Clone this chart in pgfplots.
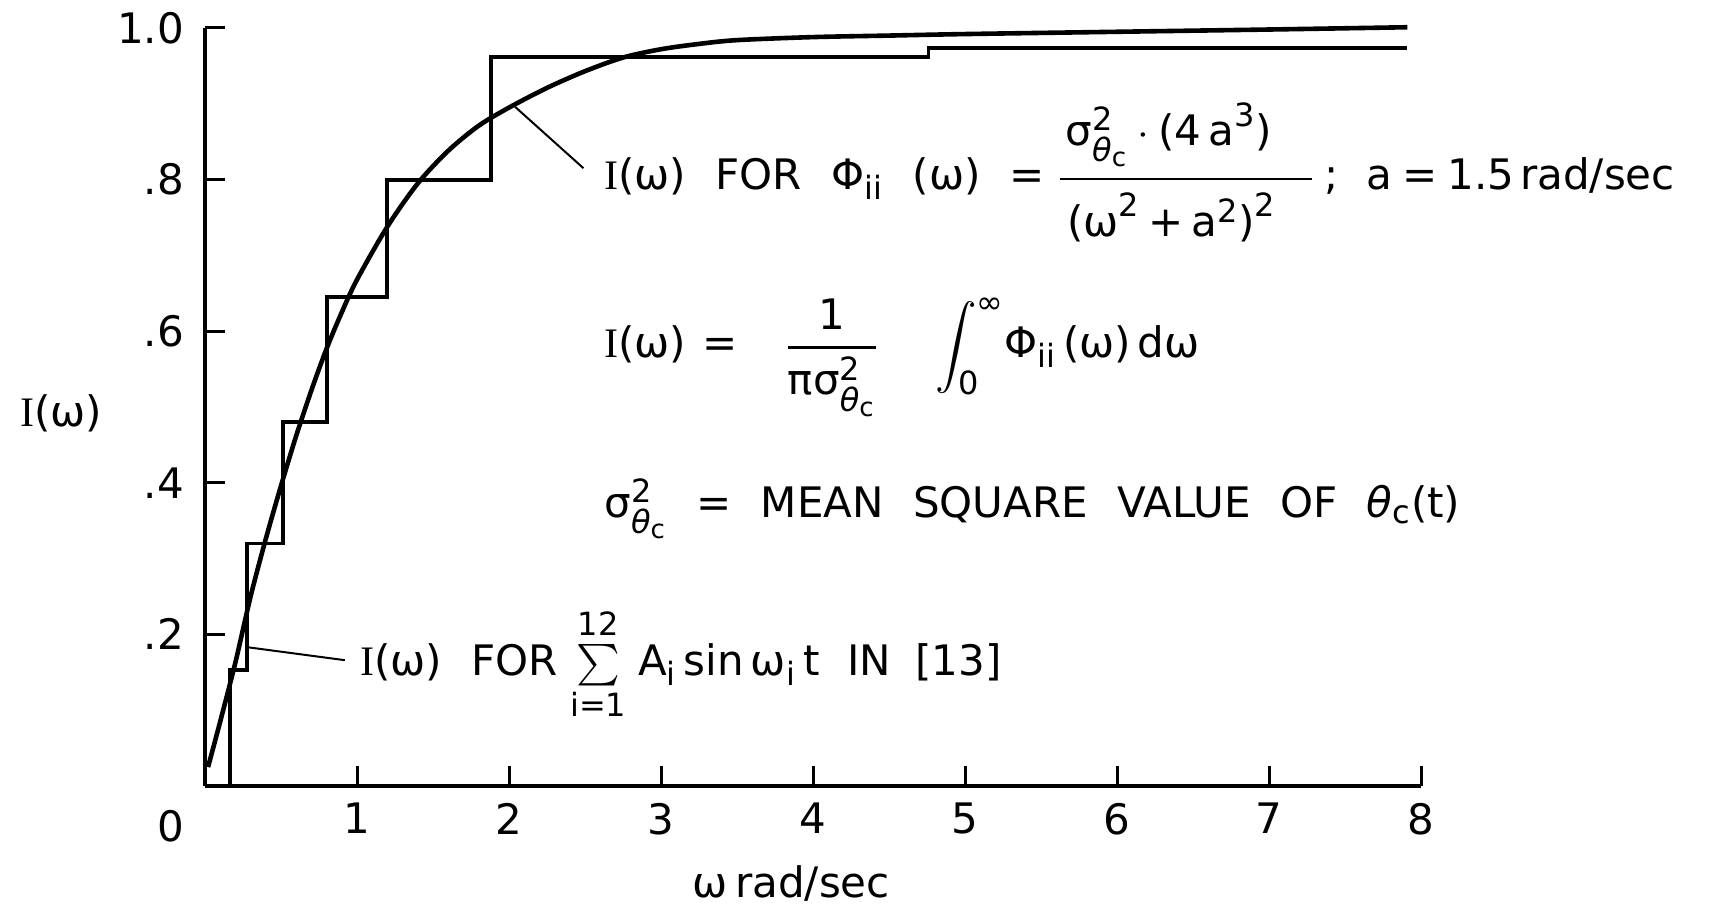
\RequirePackage{fix-cm}
\documentclass[border=0pt]{standalone}
\usepackage{amsmath}
\usepackage{fontspec}
\setmainfont{DejaVu Sans}[WordSpace=2.2]
\newfontfamily\romanI{Liberation Serif}
\usepackage{pgfplots}
\pgfplotsset{compat=1.18}
\DeclareMathSizes{21}{21}{16}{13}

\newcommand\T[1]{\text{#1}}
\newcommand\Iw{{\romanI I}(ω)}
\newcommand\sigmath{\T{σ}^{\T{2}}_{\T{\textit{θ}}_{\T{c}}}}

\begin{document}
\begin{tikzpicture}[font=\fontsize{21}{25}\selectfont]
\useasboundingbox (-102.5pt,-62.5pt) rectangle (761pt,393pt);
\begin{axis}[
  at={(0,0)}, anchor=south west,
  scale only axis, width=608pt, height=379pt,
  xmin=0, xmax=8, ymin=0, ymax=1,
  axis x line=bottom, axis y line=left,
  axis line style={-, line width=2pt},
  tick align=inside, major tick length=10pt,
  tick style={line width=1.5pt, black},
  xtick={1,2,3,4,5,6,7,8}, xticklabels={1,2,3,4,5,6,7,8},
  ytick={0.2,0.4,0.6,0.8,1.0}, yticklabels={.2,.4,.6,.8,1.0},
  xticklabel style={yshift=-5pt},
  yticklabel style={xshift=-7pt},
  /pgf/number format/assume math mode=true,
  clip=false,
]
% normalized cumulative spectrum of the second-order process, a = 1.5 rad/sec
\addplot[black, line width=2.3pt, smooth] coordinates {
  (0.02,0.025) (0.1,0.085) (0.2,0.163) (0.3,0.250) (0.4,0.326)
  (0.5,0.396) (0.6,0.462) (0.7,0.522) (0.8,0.577) (0.9,0.625)
  (1.0,0.668) (1.2,0.738) (1.4,0.795) (1.6,0.838) (1.8,0.871)
  (2.0,0.895) (2.25,0.921) (2.5,0.943) (2.75,0.961) (3.0,0.972)
  (3.25,0.979) (3.5,0.984) (4.0,0.988) (4.5,0.990) (5.0,0.992)
  (6.0,0.995) (7.0,0.998) (7.91,1.001)
};
% staircase for the sum of 12 sinusoids
\addplot[black, line width=1.9pt] coordinates {
  (0.165,0) (0.165,0.153) (0.276,0.153) (0.276,0.320)
  (0.513,0.320) (0.513,0.480) (0.80,0.480) (0.80,0.645)
  (1.195,0.645) (1.195,0.800) (1.88,0.800) (1.88,0.962)
  (4.76,0.962) (4.76,0.974) (7.91,0.974)
};
% leader lines
\draw[line width=1pt] (axis cs:2.04,0.896) -- (axis cs:2.49,0.815);
\draw[line width=1pt] (axis cs:0.283,0.183) -- (axis cs:0.92,0.166);

\node at (axis cs:-0.224,-0.053) {0};
\node at (axis cs:-0.947,0.492) {\Iw};
\node at (axis cs:3.855,-0.129) {ω\hspace{4pt}rad/sec};

\node[anchor=base west, inner sep=0pt] at (axis cs:2.625,0.787)
  {\Iw{} FOR Φ$_{\T{ii}}$ (ω) =\hspace{6pt}$\genfrac{}{}{1.3pt}{0}{\rule[-12pt]{0pt}{10pt}\hspace{3pt}\sigmath\cdot\T{(4\,a}^{\T{3}}\T{)}\hspace{20pt}}{\rule{0pt}{24pt}\T{(ω}^{\T{2}}\T{\hspace{4pt}+\hspace{4pt}a}^{\T{2}}\T{)}^{\T{2}}\hspace{14pt}}$\hspace{5pt};\hspace{14pt}a\hspace{5pt}=\hspace{5pt}1.5\hspace{3pt}rad/sec};
\node[anchor=base west, inner sep=0pt] at (axis cs:2.625,0.565)
  {\Iw\hspace{8pt}=\hspace{24pt}$\genfrac{}{}{1.3pt}{0}{\T{1}}{\T{π}\sigmath}\hspace{25pt}\displaystyle\int_{\T{0}}^{\T{∞}}$Φ$_{\T{ii}}$\,(ω)\,dω};
\node[anchor=base west, inner sep=0pt] at (axis cs:2.625,0.354)
  {$\sigmath$ = MEAN SQUARE VALUE OF \textit{θ}$_{\T{c}}$(t)};
\node[anchor=base west, inner sep=0pt] at (axis cs:1.02,0.146)
  {\Iw{} FOR\hspace{6pt}$\sum\limits_{\T{i=1}}^{\T{12}}$\hspace{6pt}A$_{\T{i}}$\,sin\,ω$_{\T{i}}$\,t\hspace{14pt}IN\hspace{12pt}[13]};
\end{axis}
\end{tikzpicture}
\end{document}
